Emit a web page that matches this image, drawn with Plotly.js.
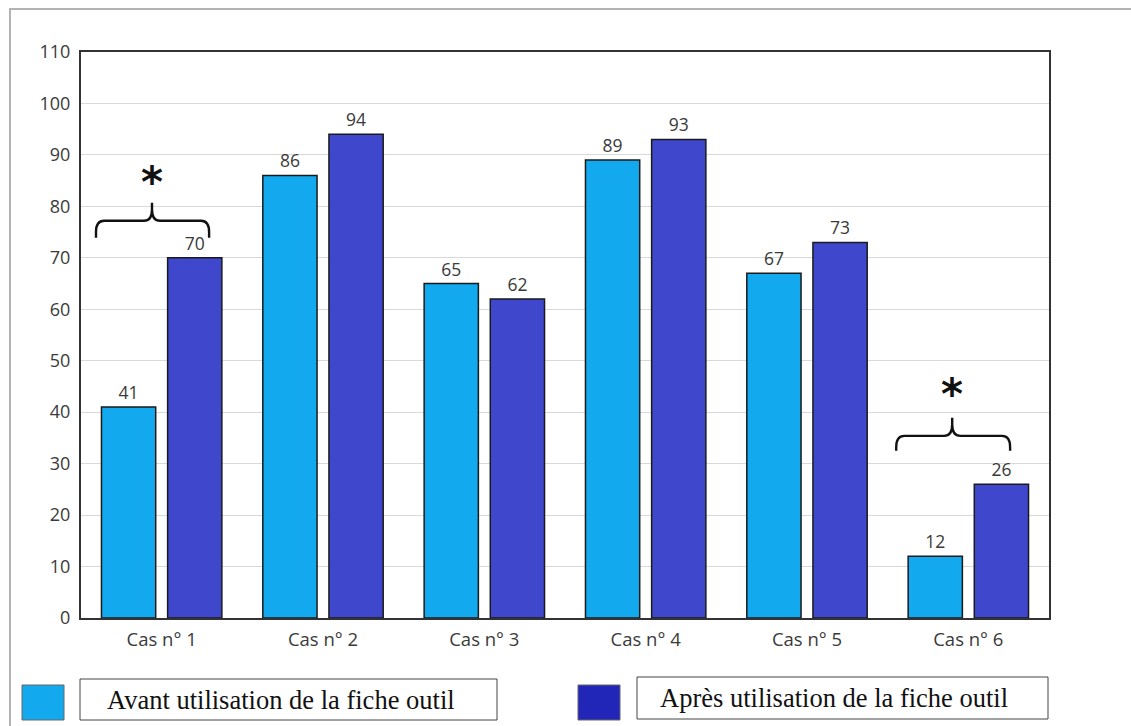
<!DOCTYPE html>
<html>
<head>
<meta charset="utf-8">
<script src="https://cdn.plot.ly/plotly-3.0.1.min.js"></script>
<style>html,body{margin:0;padding:0;background:#fff;}#chart{width:1131px;height:726px;}</style>
</head>
<body>
<div id="chart"></div>
<script>
const categories = ["Cas n° 1", "Cas n° 2", "Cas n° 3", "Cas n° 4", "Cas n° 5", "Cas n° 6"];
const avantValues = [41, 86, 65, 89, 67, 12];
const apresValues = [70, 94, 62, 93, 73, 26];
const seriesNames = ["Avant utilisation de la fiche outil", "Après utilisation de la fiche outil"];
const yTicks = [0, 10, 20, 30, 40, 50, 60, 70, 80, 90, 100, 110];

const lightBlue = "#12a9ef";
const darkBlue = "#3f48cc";
const legendDark = "#2226b8";

const traces = [
  {
    type: "bar", x: categories, y: avantValues, name: seriesNames[0],
    marker: {color: lightBlue, line: {color: "#1a1a1a", width: 1.5}},
    text: avantValues.map(String), textposition: "outside",
    textfont: {family: "Open Sans, sans-serif", size: 17.5, color: "#3a3a3a"},
    cliponaxis: false, showlegend: false, hoverinfo: "x+y"
  },
  {
    type: "bar", x: categories, y: apresValues, name: seriesNames[1],
    marker: {color: darkBlue, line: {color: "#1a1a1a", width: 1.5}},
    text: apresValues.map(String), textposition: "outside",
    textfont: {family: "Open Sans, sans-serif", size: 17.5, color: "#3a3a3a"},
    cliponaxis: false, showlegend: false, hoverinfo: "x+y"
  }
];

const L = 81, R = 1049, T = 52, B = 618;
const px = v => (v - L) / (R - L);
const py = v => (B - v) / (B - T);

function brace(x0, x1, xm, yEnd, yBar, yTip) {
  const r = 0.05, ry = 2.2;
  return {
    type: "path", xref: "x", yref: "y",
    path: `M ${x0} ${yEnd} L ${x0} ${yBar - ry} Q ${x0} ${yBar} ${x0 + r} ${yBar} ` +
          `L ${xm - r} ${yBar} Q ${xm} ${yBar} ${xm} ${yBar + ry} L ${xm} ${yTip} ` +
          `M ${xm} ${yBar + ry} Q ${xm} ${yBar} ${xm + r} ${yBar} ` +
          `L ${x1 - r} ${yBar} Q ${x1} ${yBar} ${x1} ${yBar - ry} L ${x1} ${yEnd}`,
    line: {color: "#111", width: 2.4}
  };
}

const shapes = [
  {type: "rect", xref: "paper", yref: "paper", x0: px(10), x1: px(1140), y0: py(740), y1: py(9),
   line: {color: "#b3b3b3", width: 2}, layer: "below"},
  brace(-0.407, 0.294, -0.06, 73.9, 77.2, 80.7),
  brace(4.553, 5.259, 4.9, 32.5, 35.4, 38.9),
  {type: "rect", xref: "paper", yref: "paper", x0: px(22), x1: px(64), y0: py(720), y1: py(685),
   fillcolor: lightBlue, line: {color: "#666", width: 1}},
  {type: "rect", xref: "paper", yref: "paper", x0: px(80), x1: px(497), y0: py(720), y1: py(679),
   fillcolor: "#fff", line: {color: "#444", width: 1}},
  {type: "rect", xref: "paper", yref: "paper", x0: px(578), x1: px(620), y0: py(720), y1: py(685),
   fillcolor: legendDark, line: {color: "#666", width: 1}},
  {type: "rect", xref: "paper", yref: "paper", x0: px(637), x1: px(1048), y0: py(719), y1: py(677),
   fillcolor: "#fff", line: {color: "#444", width: 1}}
];

const annotations = [
  {xref: "x", yref: "y", x: -0.06, y: 84.6, text: "<b>*</b>", showarrow: false,
   font: {family: "DejaVu Sans, sans-serif", size: 42, color: "#111"}},
  {xref: "x", yref: "y", x: 4.9, y: 43.4, text: "<b>*</b>", showarrow: false,
   font: {family: "DejaVu Sans, sans-serif", size: 42, color: "#111"}},
  {xref: "paper", yref: "paper", x: px(105), y: py(700), xanchor: "left", yanchor: "middle",
   text: seriesNames[0], showarrow: false,
   font: {family: "Liberation Serif, Times New Roman, serif", size: 26.5, color: "#111"}},
  {xref: "paper", yref: "paper", x: px(658), y: py(698), xanchor: "left", yanchor: "middle",
   text: seriesNames[1], showarrow: false,
   font: {family: "Liberation Serif, Times New Roman, serif", size: 26.5, color: "#111"}}
];

const layout = {
  width: 1131, height: 726,
  margin: {l: L, r: 1131 - R, t: T, b: 726 - B, pad: 0},
  paper_bgcolor: "#fff", plot_bgcolor: "#fff",
  barmode: "group", bargap: 0.18, bargroupgap: 0.18,
  font: {family: "Open Sans, sans-serif", size: 17, color: "#3a3a3a"},
  xaxis: {
    type: "category", showgrid: false, showline: true, mirror: true,
    linecolor: "#333", linewidth: 2, ticks: "outside", ticklen: 4, tickcolor: "rgba(0,0,0,0)",
    tickfont: {size: 18.5, color: "#3a3a3a"},
    fixedrange: true
  },
  yaxis: {
    range: [0, 110], tickvals: yTicks, ticktext: yTicks.map(String),
    showgrid: true, gridcolor: "#d9d9d9", gridwidth: 1,
    showline: true, mirror: true, linecolor: "#333", linewidth: 2,
    ticks: "outside", ticklen: 5, tickcolor: "rgba(0,0,0,0)",
    tickfont: {size: 18, color: "#3a3a3a"}, zeroline: false, fixedrange: true
  },
  shapes: shapes,
  annotations: annotations,
  showlegend: false
};

Plotly.newPlot("chart", traces, layout, {displayModeBar: false, staticPlot: true});
</script>
</body>
</html>
